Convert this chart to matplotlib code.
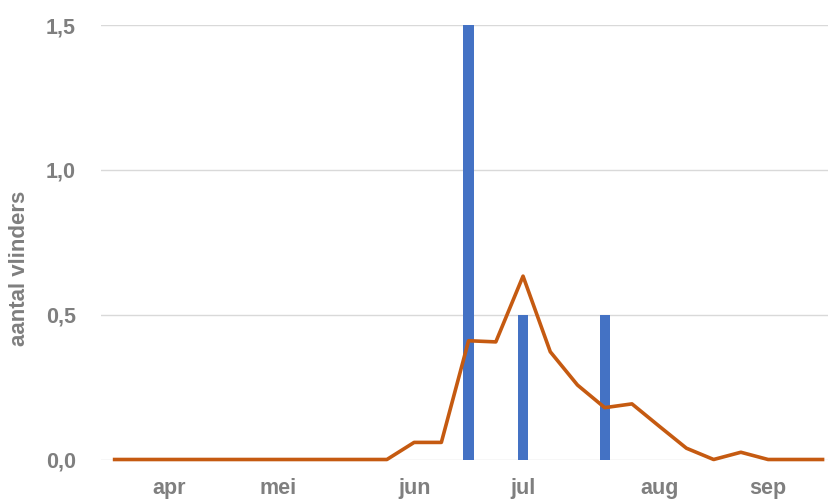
import matplotlib
matplotlib.use('Agg')
import matplotlib.pyplot as plt
import numpy as np

#%% data (weekly, week index 0..26 ~ early apr to end sep)
weeks = list(range(27))
trend = [0, 0, 0, 0, 0, 0, 0, 0, 0, 0, 0, 0.059, 0.059, 0.41, 0.406, 0.633,
         0.372, 0.257, 0.179, 0.192, 0.115, 0.039, 0, 0.025, 0, 0, 0]
bar_weeks = [13, 15, 18]
bar_counts = [1.5, 0.5, 0.5]
month_pos = [2, 6, 11, 15, 20, 24]
month_lbl = ['apr', 'mei', 'jun', 'jul', 'aug', 'sep']
yticks = [0, 0.5, 1.0, 1.5]
ylbl = ['0,0', '0,5', '1,0', '1,5']

#%% plot
grey = '#7f7f7f'
plt.rcParams.update({'font.family': 'Liberation Sans', 'font.weight': 'bold'})
fig = plt.figure(figsize=(8.3, 5), dpi=100)
ax = fig.add_axes([101/830, 1-459.5/500, 727/830, 434.5/500])

ax.bar(bar_weeks, bar_counts, width=0.38, color='#4472C4', zorder=2)
ax.plot(weeks, trend, c='#C55A11', lw=2.6, zorder=3, clip_on=False)

ax.set_xlim(-0.5, 26.2)
ax.set_ylim(0, 1.5)
ax.set_yticks(yticks)
ax.set_yticklabels(ylbl)
ax.set_xticks(month_pos)
ax.set_xticklabels(month_lbl)
ax.grid(axis='y', color='#d9d9d9', lw=1, zorder=0)
ax.set_axisbelow(True)
for s in ax.spines.values():
    s.set_visible(False)
ax.tick_params(axis='both', length=0, colors=grey, labelsize=15.5)
ax.tick_params(axis='y', pad=18)
ax.tick_params(axis='x', pad=13)
for t in ax.get_xticklabels() + ax.get_yticklabels():
    t.set_fontweight('bold')
ax.set_ylabel('aantal vlinders', fontsize=16, fontweight='bold', color=grey)
ax.yaxis.set_label_coords(-71/727, (459.5-268)/434.5)

fig.savefig('out.png', dpi=100)
